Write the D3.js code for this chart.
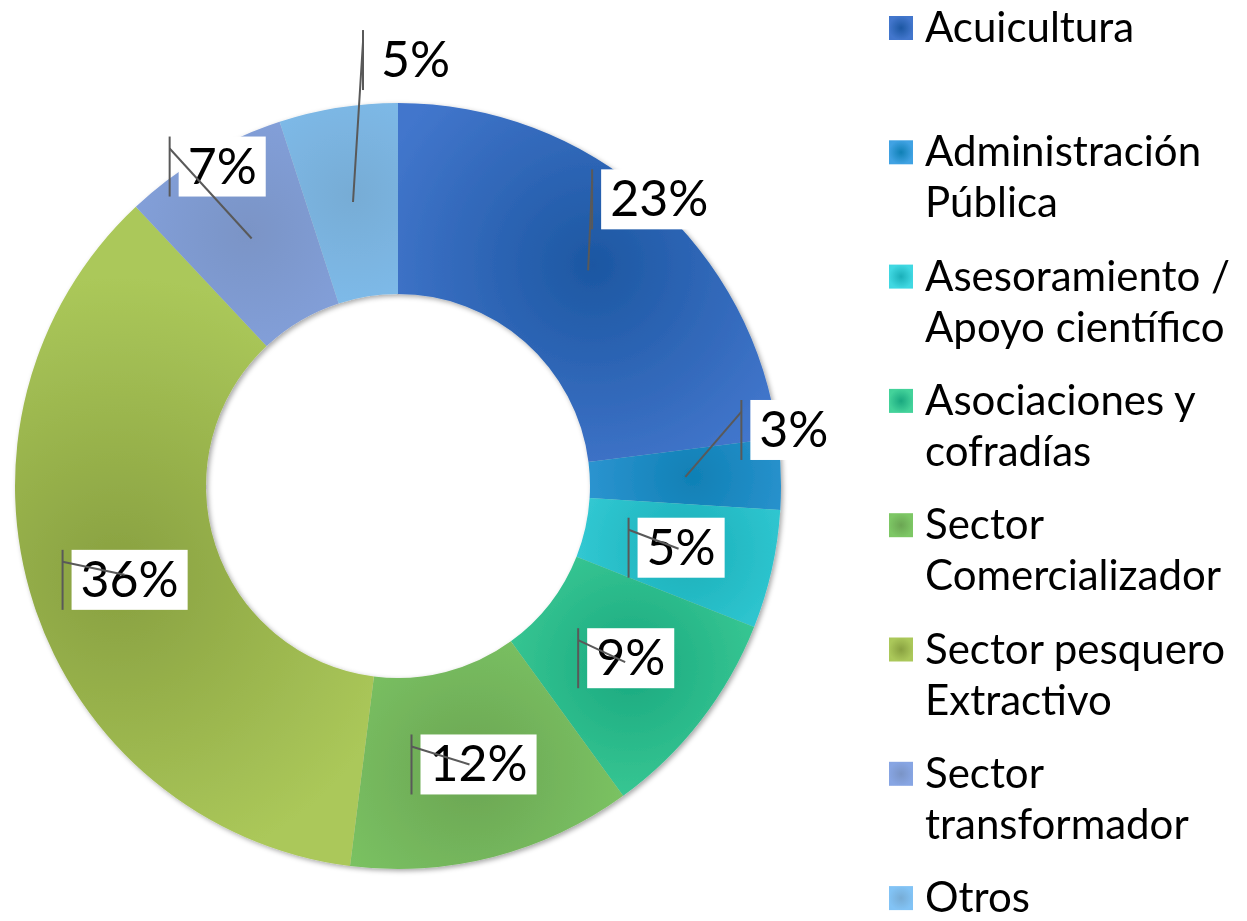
<!DOCTYPE html>
<html>
<head>
<meta charset="utf-8">
<script src="https://cdn.jsdelivr.net/npm/d3@7"></script>
<style>
  body { margin: 0; background: #fff; }
  text { font-family: "Lato", "Noto Sans", sans-serif; fill: #000; }
</style>
</head>
<body>
<div id="chart"></div>
<script>
// data
var categories = ["Acuicultura", "Administración Pública", "Asesoramiento / Apoyo científico",
    "Asociaciones y cofradías", "Sector Comercializador", "Sector pesquero Extractivo",
    "Sector transformador", "Otros"];
var legendLines = [["Acuicultura"], ["Administración", "Pública"], ["Asesoramiento /", "Apoyo científico"],
    ["Asociaciones y", "cofradías"], ["Sector", "Comercializador"], ["Sector pesquero", "Extractivo"],
    ["Sector", "transformador"], ["Otros"]];
var values = [23, 3, 5, 9, 12, 36, 7, 5];
var labels = ["23%", "3%", "5%", "9%", "12%", "36%", "7%", "5%"];

// colours: [centre, edge]
var colorsDark = ["#1c57a2", "#0f80b5", "#1aafb9", "#19a87f", "#6ba553", "#88a040", "#7a94c6", "#77acd5"];
var colorsLight = ["#4276cc", "#40a2e3", "#40d8e2", "#43d29a", "#7dc765", "#abc85a", "#87a5e3", "#82c3f5"];

// label box offset from slice centroid (manual placement)
var labelOffsets = [[13, -101], [65, -77], [-41, -31], [-38, -34], [-49, -30], [-53, -25], [-73, -102], [19, -172]];

var width = 1247, height = 921;
var cx = 398, cy = 486, outerR = 383, innerR = 192;

var svg = d3.select("#chart").append("svg")
    .attr("width", width)
    .attr("height", height);

var defs = svg.append("defs");

var shadow = defs.append("filter").attr("id", "shadow")
    .attr("x", "-10%").attr("y", "-10%").attr("width", "120%").attr("height", "120%");
shadow.append("feDropShadow")
    .attr("dx", 2).attr("dy", 2).attr("stdDeviation", 2.5)
    .attr("flood-color", "#000").attr("flood-opacity", 0.35);

var pie = d3.pie().sort(null).value(function (d) { return d; });
var arcs = pie(values);

var arc = d3.arc().innerRadius(innerR).outerRadius(outerR);
var gradArc = d3.arc().innerRadius(innerR + 20).outerRadius(outerR - 5);

// gradient centres sit in the slice, in the slice's own (translated) coords
arcs.forEach(function (d, i) {
    var c = gradArc.centroid(d);
    var g = defs.append("radialGradient")
        .attr("id", "grad" + i)
        .attr("gradientUnits", "userSpaceOnUse")
        .attr("cx", c[0]).attr("cy", c[1])
        .attr("r", i == 5 ? 300 : (i == 0 ? 230 : 180));
    g.append("stop").attr("offset", "0%").attr("stop-color", colorsDark[i]);
    g.append("stop").attr("offset", "100%").attr("stop-color", colorsLight[i]);
});

var donut = svg.append("g")
    .attr("filter", "url(#shadow)");

donut.selectAll("path.slice")
    .data(arcs)
    .enter()
    .append("path")
    .attr("class", "slice")
    .attr("d", arc)
    .attr("transform", "translate(" + cx + "," + cy + ")")
    .attr("fill", function (d, i) { return "url(#grad" + i + ")"; });

// data labels
var labelG = svg.append("g");
var fontSize = 50;

arcs.forEach(function (d, i) {
    var c = arc.centroid(d);
    var ax = cx + c[0], ay = cy + c[1];
    var bx = ax + labelOffsets[i][0], by = ay + labelOffsets[i][1];

    var t = labelG.append("text")
        .attr("x", bx + 9)
        .attr("y", by + 47)
        .attr("font-size", fontSize)
        .text(labels[i]);
    var w = t.node().getComputedTextLength();

    labelG.insert("rect", "text")
        .attr("x", bx)
        .attr("y", by)
        .attr("width", w + 18)
        .attr("height", 60)
        .attr("fill", "#fff");

    labelG.append("line")
        .attr("x1", bx - 9).attr("y1", by)
        .attr("x2", bx - 9).attr("y2", by + 60)
        .attr("stroke", "#595959").attr("stroke-width", 2);
    labelG.append("line")
        .attr("x1", bx - 9).attr("y1", by + 12)
        .attr("x2", ax).attr("y2", ay)
        .attr("stroke", "#595959").attr("stroke-width", 2);
});

// legend
var legend = svg.append("g");
var legendStep = 124.3, lineH = 51, legendX = 889, legendY = 42;

legendLines.forEach(function (lines, i) {
    var y0 = legendY + i * legendStep;
    var lg = defs.append("radialGradient").attr("id", "lg" + i);
    lg.append("stop").attr("offset", "0%").attr("stop-color", colorsDark[i]);
    lg.append("stop").attr("offset", "100%").attr("stop-color", colorsLight[i]);

    legend.append("rect")
        .attr("x", legendX)
        .attr("y", y0 - 26)
        .attr("width", 24)
        .attr("height", 24)
        .attr("fill", "url(#lg" + i + ")");

    var t = legend.append("text")
        .attr("x", legendX + 36)
        .attr("y", y0)
        .attr("font-size", 42);
    lines.forEach(function (s, j) {
        t.append("tspan")
            .attr("x", legendX + 36)
            .attr("dy", j == 0 ? 0 : lineH)
            .text(s);
    });
});
</script>
</body>
</html>
